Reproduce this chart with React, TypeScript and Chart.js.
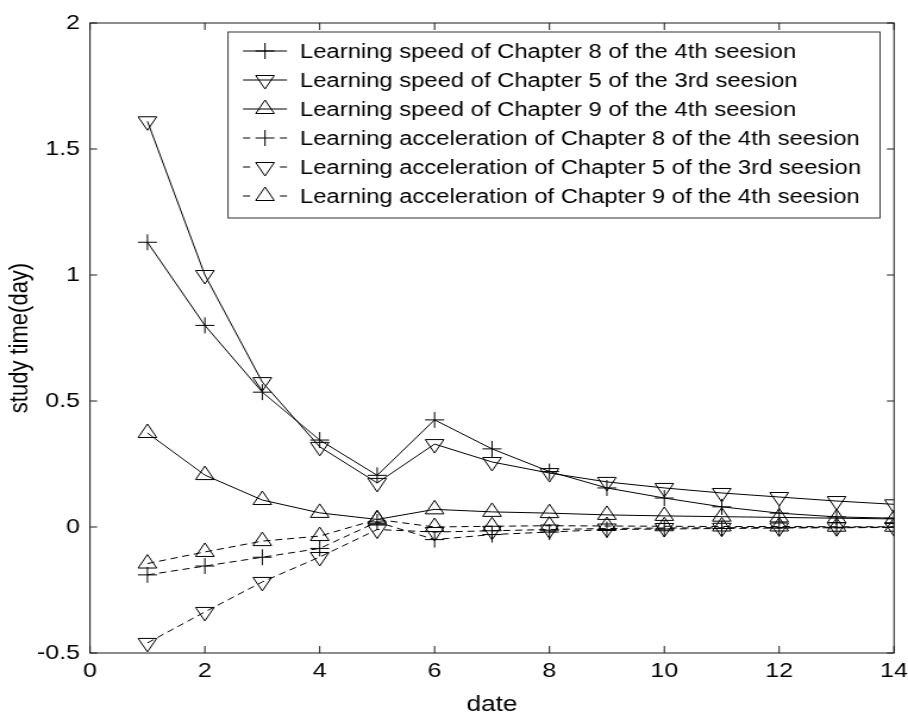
import React, { useEffect, useRef } from 'react';
import { Chart, registerables } from 'chart.js';

Chart.register(...registerables);

// ---- data ----
const days = [1, 2, 3, 4, 5, 6, 7, 8, 9, 10, 11, 12, 13, 14];
const speedCh8 = [1.13, 0.8, 0.535, 0.345, 0.205, 0.425, 0.31, 0.22, 0.155, 0.115, 0.08, 0.055, 0.04, 0.035];
const speedCh5 = [1.61, 1.0, 0.575, 0.318, 0.175, 0.329, 0.258, 0.214, 0.179, 0.155, 0.135, 0.119, 0.103, 0.09];
const speedCh9 = [0.373, 0.206, 0.107, 0.056, 0.03, 0.07, 0.06, 0.055, 0.048, 0.044, 0.041, 0.038, 0.035, 0.032];
const accelCh8 = [-0.19, -0.155, -0.12, -0.085, 0.02, -0.05, -0.03, -0.02, -0.01, -0.008, -0.006, -0.004, -0.003, -0.002];
const accelCh5 = [-0.46, -0.337, -0.218, -0.119, -0.01, -0.02, -0.015, -0.01, -0.006, -0.004, -0.003, -0.002, -0.001, -0.001];
const accelCh9 = [-0.145, -0.099, -0.056, -0.036, 0.03, 0.0, 0.003, 0.005, 0.004, 0.003, 0.002, 0.002, 0.001, 0.001];

const seriesLabels = [
  'Learning speed of Chapter 8 of the 4th seesion',
  'Learning speed of Chapter 5 of the 3rd seesion',
  'Learning speed of Chapter 9 of the 4th seesion',
  'Learning acceleration of Chapter 8 of the 4th seesion',
  'Learning acceleration of Chapter 5 of the 3rd seesion',
  'Learning acceleration of Chapter 9 of the 4th seesion',
];
const seriesValues = [speedCh8, speedCh5, speedCh9, accelCh8, accelCh5, accelCh9];
const seriesMarkers = ['cross', 'down', 'up', 'cross', 'down', 'up'];
const seriesDashed = [false, false, false, true, true, true];

const xTicksStep = 2;
const yTicksStep = 0.5;

// ---- layout (logical canvas stretched horizontally like the reference) ----
const STRETCH = 1.19;
const PW = 908;
const PH = 717;
const LW = Math.round(PW / STRETCH);
const FONT = 'Liberation Sans, Arial, sans-serif';

const CROSS_R = 8;
const TRI_R = 9;

function drawMarker(ctx: CanvasRenderingContext2D, kind: string, x: number, y: number) {
  ctx.beginPath();
  if (kind === 'cross') {
    ctx.moveTo(x - CROSS_R, y);
    ctx.lineTo(x + CROSS_R, y);
    ctx.moveTo(x, y - CROSS_R);
    ctx.lineTo(x, y + CROSS_R);
  } else {
    let rad = kind === 'down' ? Math.PI : 0;
    ctx.moveTo(x + Math.sin(rad) * TRI_R, y - Math.cos(rad) * TRI_R);
    rad += (2 * Math.PI) / 3;
    ctx.lineTo(x + Math.sin(rad) * TRI_R, y - Math.cos(rad) * TRI_R);
    rad += (2 * Math.PI) / 3;
    ctx.lineTo(x + Math.sin(rad) * TRI_R, y - Math.cos(rad) * TRI_R);
    ctx.closePath();
  }
  ctx.stroke();
}

export default function App() {
  const ref = useRef<HTMLCanvasElement>(null);

  useEffect(() => {
    document.body.style.margin = '0';
    const canvas = ref.current;
    if (!canvas) return;

    const framePlugin = {
      id: 'frameTicks',
      afterDatasetsDraw(chart: any) {
        const { ctx, chartArea, scales } = chart;
        const { left, right, top, bottom } = chartArea;
        ctx.save();
        ctx.strokeStyle = '#1a1a1a';
        ctx.lineWidth = 1;
        ctx.setLineDash([]);
        ctx.strokeRect(left, top, right - left, bottom - top);
        ctx.beginPath();
        scales.x.ticks.forEach((t: any) => {
          const px = scales.x.getPixelForValue(t.value);
          ctx.moveTo(px, bottom);
          ctx.lineTo(px, bottom - 7);
          ctx.moveTo(px, top);
          ctx.lineTo(px, top + 7);
        });
        scales.y.ticks.forEach((t: any) => {
          const py = scales.y.getPixelForValue(t.value);
          ctx.moveTo(left, py);
          ctx.lineTo(left + 6, py);
          ctx.moveTo(right, py);
          ctx.lineTo(right - 6, py);
        });
        ctx.stroke();
        ctx.restore();
      },
    };

    const legendPlugin = {
      id: 'innerLegend',
      afterDraw(chart: any) {
        const { ctx } = chart;
        const bx = 228 / STRETCH;
        const bw = 880 / STRETCH - bx;
        const by = 32;
        const bh = 186;
        ctx.save();
        ctx.fillStyle = '#fff';
        ctx.fillRect(bx, by, bw, bh);
        ctx.strokeStyle = '#333';
        ctx.lineWidth = 1;
        ctx.strokeRect(bx, by, bw, bh);
        const x0 = 243 / STRETCH;
        const x1 = 287 / STRETCH;
        const xm = (x0 + x1) / 2;
        const tx = 300 / STRETCH;
        ctx.font = `20px ${FONT}`;
        ctx.textBaseline = 'middle';
        ctx.textAlign = 'left';
        chart.data.datasets.forEach((ds: any, i: number) => {
          const y = 51 + i * 29;
          ctx.strokeStyle = '#000';
          ctx.beginPath();
          if (seriesDashed[i]) {
            ctx.moveTo(x0, y);
            ctx.lineTo(x0 + 6, y);
            ctx.moveTo(x1 - 6, y);
            ctx.lineTo(x1, y);
          } else {
            ctx.moveTo(x0, y);
            ctx.lineTo(x1, y);
          }
          ctx.stroke();
          drawMarker(ctx, seriesMarkers[i], xm, y);
          ctx.fillStyle = '#000';
          ctx.fillText(ds.label, tx, y + 1);
        });
        ctx.restore();
      },
    };

    const datasets = seriesValues.map((vals, i) => ({
      label: seriesLabels[i],
      data: days.map((d, j) => ({ x: d, y: vals[j] })),
      borderColor: '#000',
      borderWidth: 1,
      borderDash: seriesDashed[i] ? [6, 4] : [],
      pointStyle: seriesMarkers[i] === 'cross' ? 'cross' : 'triangle',
      pointRotation: seriesMarkers[i] === 'down' ? 180 : 0,
      pointRadius: seriesMarkers[i] === 'cross' ? CROSS_R : TRI_R,
      pointHoverRadius: seriesMarkers[i] === 'cross' ? CROSS_R : TRI_R,
      pointBorderColor: '#000',
      pointBackgroundColor: 'rgba(0,0,0,0)',
      pointBorderWidth: 1,
      fill: false,
      tension: 0,
    }));

    const fmt = (v: any) => String(Number(v));

    const chart = new Chart(canvas, {
      type: 'line',
      data: { datasets },
      options: {
        responsive: false,
        maintainAspectRatio: false,
        devicePixelRatio: 1,
        animation: false,
        layout: { padding: { top: 23, right: LW - 894 / STRETCH, left: 0, bottom: 0 } },
        plugins: {
          legend: { display: false },
          tooltip: { enabled: false },
        },
        scales: {
          x: {
            type: 'linear',
            min: 0,
            max: 14,
            ticks: {
              stepSize: xTicksStep,
              color: '#000',
              font: { family: FONT, size: 21 },
              padding: 6,
              maxRotation: 0,
              autoSkip: false,
              callback: fmt,
            },
            grid: { display: false, drawTicks: false },
            border: { display: false },
            title: {
              display: true,
              text: 'date',
              color: '#000',
              font: { family: FONT, size: 22 },
              padding: { top: 0, bottom: -1 },
            },
            afterFit(scale: any) {
              scale.height = 64;
              scale.paddingLeft = 0;
              scale.paddingRight = 0;
            },
          },
          y: {
            type: 'linear',
            min: -0.5,
            max: 2,
            ticks: {
              stepSize: yTicksStep,
              color: '#000',
              font: { family: FONT, size: 21 },
              padding: 8.4,
              callback: fmt,
            },
            grid: { display: false, drawTicks: false },
            border: { display: false },
            title: {
              display: true,
              text: 'study time(day)',
              color: '#000',
              font: { family: FONT, size: 22 },
              padding: { top: 3.5, bottom: 0 },
            },
            afterFit(scale: any) {
              scale.width = 90 / STRETCH;
              scale.paddingTop = 0;
              scale.paddingBottom = 0;
            },
          },
        },
      } as any,
      plugins: [framePlugin, legendPlugin],
    });

    return () => {
      chart.destroy();
    };
  }, []);

  return (
    <canvas
      ref={ref}
      width={LW}
      height={PH}
      style={{ width: `${PW}px`, height: `${PH}px`, display: 'block' }}
    />
  );
}
